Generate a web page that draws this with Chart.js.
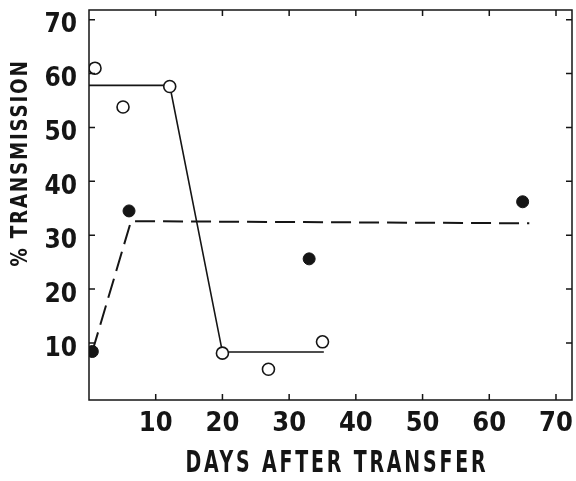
<!DOCTYPE html>
<html>
<head>
<meta charset="utf-8">
<script src="https://cdn.jsdelivr.net/npm/chart.js@4"></script>
<style>
  html, body { margin: 0; padding: 0; background: #fff; }
  #wrap { width: 576px; height: 481px; }
</style>
</head>
<body>
<div id="wrap"><canvas id="chart" width="576" height="481"></canvas></div>
<script>
// open circles
const openDays = [0.9, 5.1, 12.1, 20, 26.9, 35];
const openValues = [61, 53.8, 57.6, 8.1, 5.1, 10.2];
// filled circles
const filledDays = [0.5, 6, 33, 65];
const filledValues = [8.4, 34.5, 25.6, 36.2];
// fitted lines
const solidDays = [0, 12.1, 20, 35.2];
const solidValues = [57.8, 57.8, 8.3, 8.3];
const dashedDays = [0.5, 6.3, 66];
const dashedValues = [8.4, 32.6, 32.2];

const xTicks = [10, 20, 30, 40, 50, 60, 70];
const yTicks = [10, 20, 30, 40, 50, 60, 70];
const xTitle = "DAYS AFTER TRANSFER";
const yTitle = "% TRANSMISSION";

const FONT = "'DejaVu Sans Condensed', 'DejaVu Sans', sans-serif";
const INK = "#151515";

const pts = (xs, ys) => xs.map((x, i) => ({ x: x, y: ys[i] }));

// frame, inward ticks and axis titles
const framePlugin = {
  id: "frame",
  afterDraw(chart) {
    const { ctx, chartArea: a, scales } = chart;
    ctx.save();
    ctx.strokeStyle = INK;
    ctx.lineWidth = 1.5;
    ctx.strokeRect(a.left, a.top, a.right - a.left, a.bottom - a.top);
    ctx.beginPath();
    xTicks.forEach(v => {
      const px = scales.x.getPixelForValue(v);
      ctx.moveTo(px, a.bottom); ctx.lineTo(px, a.bottom - 6);
      ctx.moveTo(px, a.top); ctx.lineTo(px, a.top + 6);
    });
    yTicks.forEach(v => {
      const py = scales.y.getPixelForValue(v);
      ctx.moveTo(a.left, py); ctx.lineTo(a.left + 6, py);
      ctx.moveTo(a.right, py); ctx.lineTo(a.right - 6, py);
    });
    ctx.stroke();

    ctx.fillStyle = INK;
    ctx.font = "bold 30px " + FONT;
    ctx.letterSpacing = "4px";
    ctx.textAlign = "center";
    ctx.textBaseline = "alphabetic";
    ctx.fillText(xTitle, 337, 472, 303);

    ctx.translate(27, 163);
    ctx.rotate(-Math.PI / 2);
    ctx.font = "bold 23px " + FONT;
    ctx.letterSpacing = "2px";
    ctx.fillText(yTitle, 0, 0, 207);
    ctx.restore();
  }
};

new Chart(document.getElementById("chart"), {
  type: "scatter",
  data: {
    datasets: [
      {
        label: "solid fit",
        data: pts(solidDays, solidValues),
        showLine: true,
        borderColor: INK,
        borderWidth: 1.6,
        pointRadius: 0,
        order: 3
      },
      {
        label: "dashed fit",
        data: pts(dashedDays, dashedValues),
        showLine: true,
        borderColor: INK,
        borderWidth: 2,
        borderDash: [20, 8],
        pointRadius: 0,
        order: 4
      },
      {
        label: "open",
        data: pts(openDays, openValues),
        pointRadius: 6,
        pointBackgroundColor: "#fff",
        pointBorderColor: INK,
        pointBorderWidth: 1.6,
        order: 1
      },
      {
        label: "filled",
        data: pts(filledDays, filledValues),
        pointRadius: 6,
        pointBackgroundColor: INK,
        pointBorderColor: INK,
        pointBorderWidth: 1,
        order: 2
      }
    ]
  },
  options: {
    responsive: false,
    animation: false,
    layout: { autoPadding: false, padding: { top: 10, right: 4, left: 0, bottom: 0 } },
    plugins: {
      legend: { display: false },
      tooltip: { enabled: false }
    },
    scales: {
      x: {
        type: "linear",
        min: 0,
        max: 72.4,
        afterBuildTicks: s => { s.ticks = xTicks.map(v => ({ value: v })); },
        afterFit: s => { s.height = 81; s.paddingLeft = 0; s.paddingRight = 0; },
        grid: { display: false },
        border: { display: false },
        ticks: {
          color: INK,
          padding: 0,
          maxRotation: 0,
          font: { family: FONT, size: 27, weight: "bold" }
        }
      },
      y: {
        type: "linear",
        min: -0.6,
        max: 71.8,
        afterBuildTicks: s => { s.ticks = yTicks.map(v => ({ value: v })); },
        afterFit: s => { s.width = 89; s.paddingTop = 0; s.paddingBottom = 0; },
        grid: { display: false },
        border: { display: false },
        ticks: {
          color: INK,
          padding: 4,
          labelOffset: 6,
          font: { family: FONT, size: 26, weight: "bold" }
        }
      }
    }
  },
  plugins: [framePlugin]
});
</script>
</body>
</html>
